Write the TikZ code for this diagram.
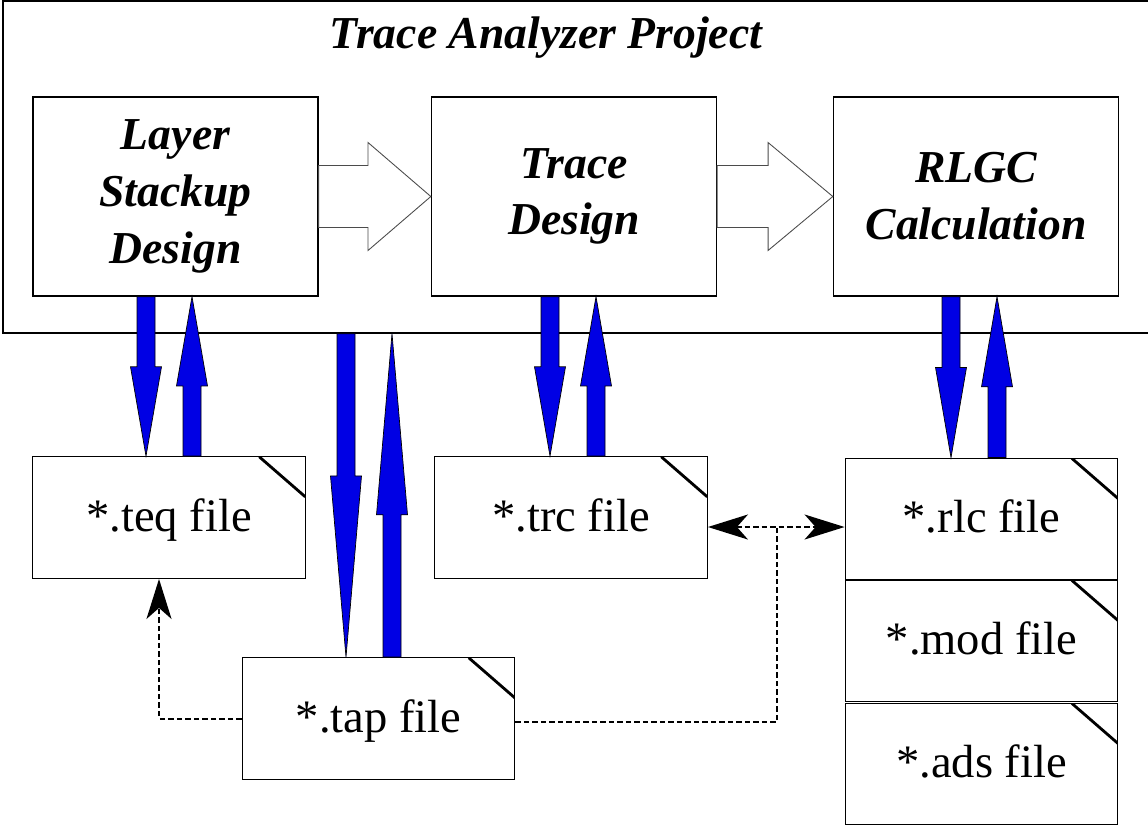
\documentclass[tikz,border=0pt]{standalone}
\usepackage{fontspec}
\setmainfont{Liberation Serif}
\usepackage{tikz}
\usetikzlibrary{arrows.meta, positioning, calc}
\usepackage{xcolor}
\definecolor{FB}{RGB}{0,0,228}
\definecolor{DG}{RGB}{30,30,30}

% block arrow from #2 to #3, shaft half width #4, head half width #5
\newcommand{\bigarrow}[5][]{%
  \path #2 -- #3 coordinate[pos=0.44] (hb);
  \draw[#1] ($#2!#4!90:#3$) -- ($(hb)!#4!90:#3$) -- ($(hb)!#5!90:#3$) -- #3
    -- ($(hb)!#5!-90:#3$) -- ($(hb)!#4!-90:#3$) -- ($#2!#4!-90:#3$) -- cycle;
}

\begin{document}
\begin{tikzpicture}[
  x=0.02cm, y=-0.02cm,
  stage/.style={draw, line width=0.8pt, minimum width=5.7cm, minimum height=3.98cm,
                align=center, font=\fontsize{26}{32.3}\selectfont\bfseries\itshape},
  file/.style={draw, line width=0.8pt, minimum width=5.45cm, minimum height=2.43cm,
               font=\fontsize{26.5}{30}\selectfont, text depth=0.1cm,
               path picture={\draw[line width=1.6pt]
                 ([xshift=-0.92cm]path picture bounding box.north east) --
                 ([yshift=-0.8cm]path picture bounding box.north east);}},
  fat/.style={fill=FB, draw=black, line width=0.4pt},
  hollow/.style={fill=white, draw=DG!80, line width=0.5pt},
  link/.style={draw=black, line width=0.04cm, dash pattern=on 0.11cm off 0.06cm,
               >={Stealth[length=0.8cm, width=0.5cm, inset=0.22cm]}}
]
\useasboundingbox (0,0) rectangle (1148,829);

\node[draw, line width=0.8pt, minimum width=22.98cm, minimum height=6.64cm] (proj) at (577.5,167) {};
\node[font=\fontsize{26}{32}\selectfont\bfseries\itshape, anchor=base] (ttl) at (546,48) {Trace Analyzer Project};

\node[stage] (lsd)  at (175.5,196.5) {Layer\\Stackup\\Design};
\node[stage] (trd)  at (574,196.5)   {Trace\\Design};
\node[stage] (rlgc) at (976,196.5)   {RLGC\\Calculation};

\node[file] (teq) at (169,517.5)   {*.teq file\hspace{0.15cm}};
\node[file] (trc) at (571,517.5)   {*.trc file\hspace{0.2cm}};
\node[file] (tap) at (378.5,718.5) {*.tap file};
\node[file] (rlc) at (981.5,519)   {*.rlc file\hspace{0.2cm}};
\node[file] (mod) at (981.5,641)   {*.mod file};
\node[file] (ads) at (981.5,764)   {*.ads file\hspace{0.15cm}};

\bigarrow[hollow]{(lsd.east)}{(trd.west)}{0.62cm}{1.08cm}
\bigarrow[hollow]{(trd.east)}{(rlgc.west)}{0.62cm}{1.08cm}

\foreach \hi/\lo/\cx in {lsd/teq/169, trd/trc/573, rlgc/rlc/974, proj/tap/369}{
  \coordinate (dn) at (\cx-23,0);
  \coordinate (up) at (\cx+23,0);
  \bigarrow[fat]{(dn |- \hi.south)}{(dn |- \lo.north)}{0.18cm}{0.31cm}
  \bigarrow[fat]{(up |- \lo.north)}{(up |- \hi.south)}{0.18cm}{0.31cm}
}

\coordinate (j) at (777,527);
\coordinate (k) at (159,0);
\draw[link, <->] (trc.east |- j) -- (rlc.west |- j);
\draw[link] ([yshift=-0.07cm]tap.east) -| (j);
\draw[link, ->] (tap.west) -| (k |- teq.south);
\end{tikzpicture}
\end{document}
